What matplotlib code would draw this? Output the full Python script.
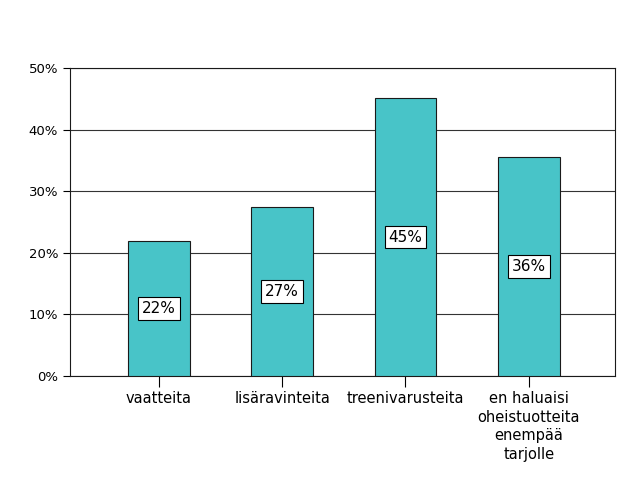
import matplotlib
matplotlib.use("Agg")
import matplotlib.pyplot as plt
from matplotlib.ticker import FuncFormatter

# Data
kategoriat = ['vaatteita', 'lisäravinteita', 'treenivarusteita',
              'en haluaisi\noheistuotteita\nenempää\ntarjolle']
osuudet = [21.9, 27.4, 45.1, 35.6]
nimikkeet = ['22%', '27%', '45%', '36%']

fig = plt.figure(figsize=(6.26, 5.01), dpi=100)
ax = fig.add_axes([70 / 626, 1 - 376 / 501, 545 / 626, 308 / 501])

x = range(len(kategoriat))
ax.bar(x, osuudet, width=0.5, color='#48C4C8', edgecolor='#1a1a1a', linewidth=0.8, zorder=3)

for xi, v, t in zip(x, osuudet, nimikkeet):
    ax.text(xi, v / 2, t, ha='center', va='center', fontsize=11, zorder=4,
            bbox=dict(boxstyle='square,pad=0.25', facecolor='white', edgecolor='black', linewidth=0.8))

ax.set_xlim(-0.72, 3.70)
ax.set_ylim(0, 50)
ax.set_yticks([0, 10, 20, 30, 40, 50])
ax.yaxis.set_major_formatter(FuncFormatter(lambda v, p: f'{v:.0f}%'))
ax.yaxis.grid(True, color='#333333', linewidth=0.8, zorder=0)
ax.set_axisbelow(True)

ax.set_xticks(list(x))
ax.set_xticklabels(kategoriat, fontsize=10.5, linespacing=1.3)
ax.tick_params(axis='y', labelsize=9.5, length=5, width=0.8, direction='out')
ax.tick_params(axis='x', length=8, width=0.8, direction='out', pad=3)

for s in ax.spines.values():
    s.set_linewidth(0.8)
    s.set_color('#1a1a1a')

plt.savefig('out.png', dpi=100)
